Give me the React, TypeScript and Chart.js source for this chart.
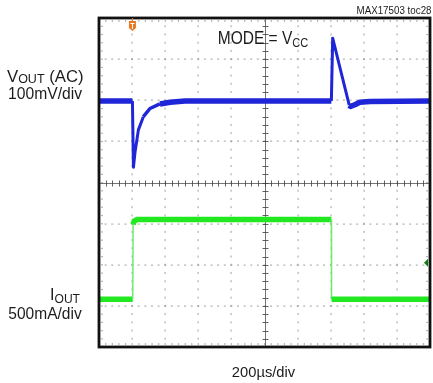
import React, { useEffect, useRef } from "react";
import { Chart, registerables } from "chart.js";

Chart.register(...registerables);

// Time axis in divisions (200µs/div), 10 divisions
const xDivisions = 10;
const yDivisions = 8;

// VOUT (AC) trace, in vertical divisions (centre = 0)
const voutTime = [0, 1.01, 1.04, 1.09, 1.19, 1.34, 1.54, 1.84, 2.15, 2.6, 7.02, 7.06, 7.28, 7.56, 7.6, 7.73, 7.88, 8.19, 10];
const voutLevel = [1.98, 1.98, 0.37, 0.75, 1.28, 1.6, 1.8, 1.91, 1.95, 1.98, 1.98, 3.51, 2.79, 1.88, 1.85, 1.89, 1.95, 1.97, 1.98];

// IOUT trace, in vertical divisions
const ioutTime = [0, 1.02, 1.03, 1.06, 1.15, 7.02, 7.025, 10];
const ioutLevel = [-2.84, -2.84, -1.02, -0.94, -0.9, -0.9, -2.84, -2.84];

const BLUE = "rgb(30,38,216)";
const GREEN = "rgb(34,232,34)";
const FONT = '"Liberation Sans", Arial, Helvetica, sans-serif';
const TEXT = "#1c1c1c";

type Piece = { text: string; size: number; dy?: number };

function drawRich(
  ctx: CanvasRenderingContext2D,
  pieces: Piece[],
  x: number,
  y: number,
  align: "left" | "right" | "center",
  targetWidth?: number
) {
  ctx.save();
  ctx.textAlign = "left";
  ctx.textBaseline = "alphabetic";
  ctx.fillStyle = TEXT;
  const widths = pieces.map((p) => {
    ctx.font = `${p.size}px ${FONT}`;
    return ctx.measureText(p.text).width;
  });
  const W = widths.reduce((a, b) => a + b, 0);
  const s = targetWidth ? targetWidth / W : 1;
  let cur = align === "left" ? x : align === "right" ? x - W * s : x - (W * s) / 2;
  pieces.forEach((p, i) => {
    ctx.font = `${p.size}px ${FONT}`;
    ctx.save();
    ctx.translate(cur, y + (p.dy || 0));
    ctx.scale(s, 1);
    ctx.fillText(p.text, 0, 0);
    ctx.restore();
    cur += widths[i] * s;
  });
  ctx.restore();
}

const scopePlugin = {
  id: "scope",
  beforeDatasetsDraw(chart: any) {
    const { ctx, chartArea } = chart;
    const { left, top, right, bottom } = chartArea;
    const dx = (right - left) / xDivisions;
    const dy = (bottom - top) / yDivisions;
    ctx.save();
    // dotted grid
    ctx.fillStyle = "rgba(110,110,110,0.55)";
    for (let i = 1; i < xDivisions; i++) {
      if (i === xDivisions / 2) continue;
      const x = Math.round(left + i * dx);
      for (let j = 1; j < yDivisions * 5; j++) {
        const y = top + (j * dy) / 5;
        ctx.fillRect(x - 0.5, y - 1, 1.2, 2);
      }
    }
    for (let k = 1; k < yDivisions; k++) {
      if (k === yDivisions / 2) continue;
      const y = Math.round(top + k * dy);
      for (let m = 1; m < xDivisions * 5; m++) {
        const x = left + (m * dx) / 5;
        ctx.fillRect(x - 1, y - 0.5, 2, 1.2);
      }
    }
    // border minor ticks
    ctx.fillStyle = "rgba(110,110,110,0.5)";
    for (let m = 1; m < xDivisions * 5; m++) {
      const x = left + (m * dx) / 5;
      ctx.fillRect(x - 0.5, top + 2, 1.2, 2);
      ctx.fillRect(x - 0.5, bottom - 4, 1.2, 2);
    }
    for (let j = 1; j < yDivisions * 5; j++) {
      const y = top + (j * dy) / 5;
      ctx.fillRect(left + 2, y - 0.5, 2, 1.2);
      ctx.fillRect(right - 4, y - 0.5, 2, 1.2);
    }
    // centre crosshair
    const cx = Math.round(left + (xDivisions / 2) * dx) + 0.5;
    const cy = Math.round(top + (yDivisions / 2) * dy) + 0.5;
    ctx.strokeStyle = "rgba(70,70,70,0.75)";
    ctx.lineWidth = 1;
    ctx.beginPath();
    ctx.moveTo(left, cy);
    ctx.lineTo(right, cy);
    ctx.moveTo(cx, top);
    ctx.lineTo(cx, bottom);
    ctx.stroke();
    ctx.strokeStyle = "rgba(60,60,60,0.8)";
    ctx.beginPath();
    for (let m = 1; m < xDivisions * 5; m++) {
      const x = Math.round(left + (m * dx) / 5) + 0.5;
      ctx.moveTo(x, cy - 3);
      ctx.lineTo(x, cy + 3);
    }
    for (let j = 1; j < yDivisions * 5; j++) {
      const y = Math.round(top + (j * dy) / 5) + 0.5;
      ctx.moveTo(cx - 3, y);
      ctx.lineTo(cx + 3, y);
    }
    ctx.stroke();
    ctx.restore();
  },
  afterDraw(chart: any) {
    const { ctx, chartArea } = chart;
    const { left, top, right, bottom } = chartArea;
    ctx.save();
    // frame
    ctx.strokeStyle = "#111";
    ctx.lineWidth = 2.8;
    ctx.strokeRect(left, top, right - left, bottom - top);

    // trigger marker
    const tx = chart.scales.x.getPixelForValue(1.01);
    ctx.fillStyle = "#e8781f";
    ctx.fillRect(tx - 0.5, top, 1, 3);
    ctx.beginPath();
    ctx.moveTo(tx - 3.5, top + 3);
    ctx.lineTo(tx + 3.5, top + 3);
    ctx.lineTo(tx + 3.5, top + 10);
    ctx.lineTo(tx, top + 13);
    ctx.lineTo(tx - 3.5, top + 10);
    ctx.closePath();
    ctx.fill();
    ctx.fillStyle = "#fff";
    ctx.fillRect(tx - 2, top + 5, 4, 1);
    ctx.fillRect(tx - 0.5, top + 5, 1, 6);

    // channel 2 marker on the right
    const my = chart.scales.y.getPixelForValue(-1.95);
    ctx.fillStyle = "#127a12";
    ctx.beginPath();
    ctx.moveTo(right - 6, my);
    ctx.lineTo(right - 2, my - 4);
    ctx.lineTo(right - 2, my + 4);
    ctx.closePath();
    ctx.fill();
    ctx.restore();

    // texts
    drawRich(ctx, [{ text: "MAX17503 toc28", size: 10 }], 431.5, 13.5, "right", 75);
    drawRich(
      ctx,
      [
        { text: "MODE = V", size: 17.5 },
        { text: "CC", size: 12.5, dy: 2.4 },
      ],
      217.7,
      44.3,
      "left",
      90.6
    );
    drawRich(
      ctx,
      [
        { text: "V", size: 16 },
        { text: "OUT", size: 12, dy: 1 },
        { text: " (AC)", size: 16 },
      ],
      7,
      81.7,
      "left",
      76.5
    );
    drawRich(ctx, [{ text: "100mV/div", size: 16 }], 45, 99.3, "center", 74);
    drawRich(
      ctx,
      [
        { text: "I", size: 16 },
        { text: "OUT", size: 12, dy: 3 },
      ],
      80,
      300,
      "right",
      30
    );
    drawRich(ctx, [{ text: "500mA/div", size: 16 }], 81.7, 319.3, "right", 73.4);
    drawRich(ctx, [{ text: "200µs/div", size: 15.5 }], 263.5, 377, "center", 63.3);
  },
};

const steep = (c: any) => Math.abs(c.p1.y - c.p0.y) > 2 * Math.abs(c.p1.x - c.p0.x);

export default function App() {
  const ref = useRef<HTMLCanvasElement | null>(null);
  useEffect(() => {
    if (!ref.current) return;
    const chart = new Chart(ref.current, {
      type: "line",
      data: {
        datasets: [
          {
            label: "VOUT",
            data: voutTime.map((x, i) => ({ x, y: voutLevel[i] })),
            borderColor: BLUE,
            borderWidth: 5,
            pointRadius: 0,
            tension: 0,
            borderJoinStyle: "round",
            borderCapStyle: "butt",
            fill: false,
            segment: {
              borderWidth: (c: any) => (steep(c) ? 3 : Math.abs(c.p1.y - c.p0.y) > 4 ? 3.5 : 5.5),
            },
          } as any,
          {
            label: "IOUT",
            data: ioutTime.map((x, i) => ({ x, y: ioutLevel[i] })),
            borderColor: GREEN,
            borderWidth: 5.5,
            pointRadius: 0,
            tension: 0,
            fill: false,
            segment: {
              borderWidth: (c: any) =>
                Math.abs(c.p0.parsed.x - c.p1.parsed.x) < 0.02 ? 1.5 : 5.5,
              borderColor: (c: any) =>
                Math.abs(c.p0.parsed.x - c.p1.parsed.x) < 0.02 ? "rgb(110,235,110)" : GREEN,
            },
          } as any,
        ],
      },
      options: {
        animation: false,
        responsive: false,
        maintainAspectRatio: false,
        devicePixelRatio: 1,
        events: [],
        layout: { padding: { left: 99, top: 18, right: 3, bottom: 36 } },
        scales: {
          x: { type: "linear", min: 0, max: xDivisions, display: false },
          y: { type: "linear", min: -yDivisions / 2, max: yDivisions / 2, display: false },
        },
        plugins: {
          legend: { display: false },
          tooltip: { enabled: false },
        },
      },
      plugins: [scopePlugin],
    });
    return () => chart.destroy();
  }, []);
  return (
    <div style={{ position: "absolute", left: 0, top: 0, width: 433, height: 383, background: "#fff" }}>
      <canvas ref={ref} width={433} height={383} style={{ display: "block", width: 433, height: 383 }} />
    </div>
  );
}
